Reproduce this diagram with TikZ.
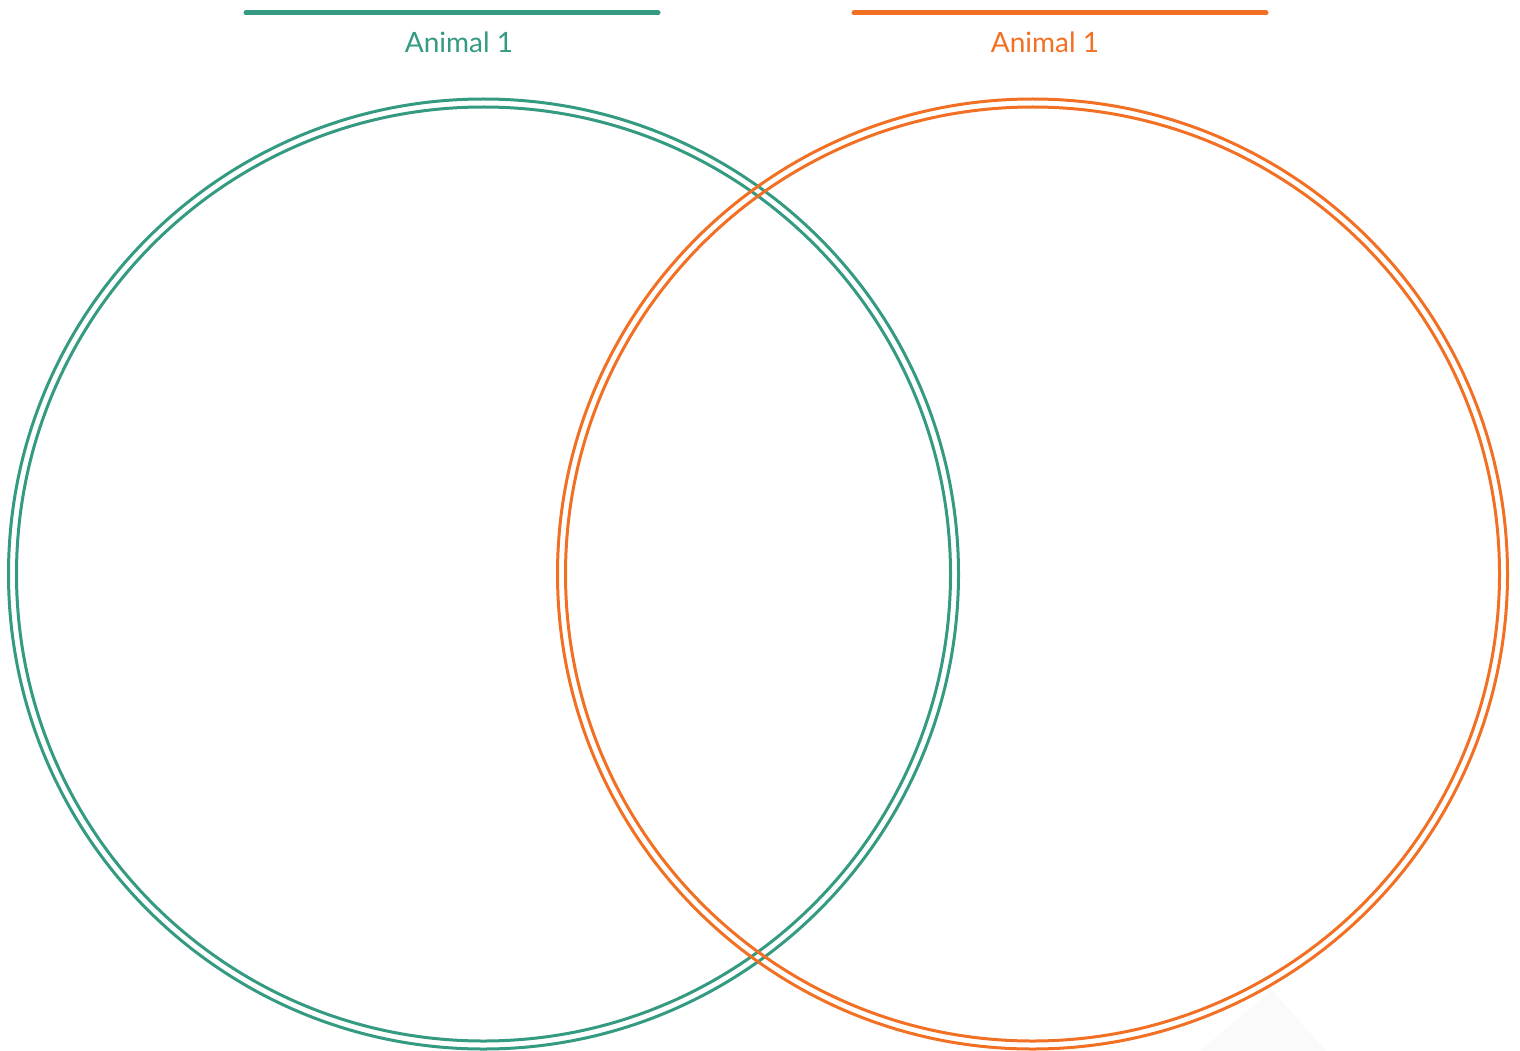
\documentclass[tikz,border=0pt]{standalone}
\usepackage{fontspec}
\setmainfont{Lato}
\definecolor{vgreen}{RGB}{52,154,129}
\definecolor{vorange}{RGB}{241,112,35}
\tikzset{
  ring/.style={line width=3pt},
  bar/.style={line width=5pt, line cap=round},
  title/.style={font=\fontsize{28}{32}\selectfont, inner sep=0pt}
}
\begin{document}
\begin{tikzpicture}[x=1pt, y=-1pt]
    % 1. Khung hình
    \useasboundingbox (0, 0) rectangle (1520, 1051);

    % 2. Bóng mờ ở góc dưới
    \fill[black!2] (1200, 1051) -- (1272, 990) -- (1326, 1051) -- cycle;

    % 3. Vòng tròn thứ nhất (xanh)
    \coordinate (cA) at (483.5, 574);
    \draw[ring, vgreen] (cA) circle (475);
    \draw[ring, vgreen] (cA) circle (467);

    % 4. Vòng tròn thứ hai (cam)
    \coordinate (cB) at (1032.5, 574);
    \draw[ring, vorange] (cB) circle (475);
    \draw[ring, vorange] (cB) circle (467);

    % 5. Thanh tiêu đề và nhãn
    \coordinate (aL) at (246, 13);
    \coordinate (aR) at (658, 13);
    \draw[bar, vgreen] (aL) -- (aR);
    \node[title, text=vgreen] (lblA) at (459, 42) {Animal 1};

    \coordinate (bL) at (854, 13);
    \coordinate (bR) at (1266, 13);
    \draw[bar, vorange] (bL) -- (bR);
    \node[title, text=vorange] (lblB) at (1045, 42) {Animal 1};
\end{tikzpicture}
\end{document}
